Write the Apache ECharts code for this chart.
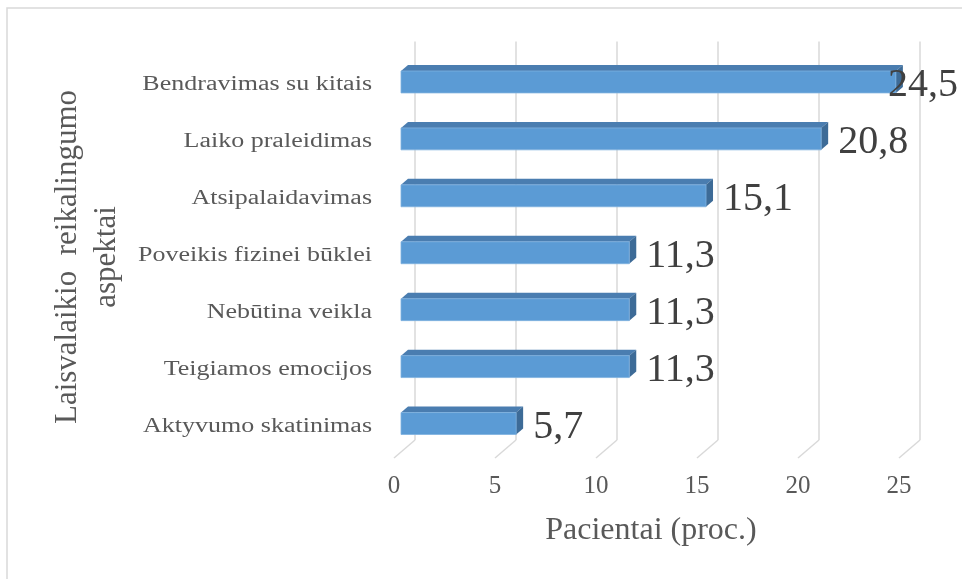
<!DOCTYPE html>
<html>
<head>
<meta charset="utf-8">
<script src="https://cdn.jsdelivr.net/npm/echarts@6/dist/echarts.min.js"></script>
<style>
  html, body { margin: 0; padding: 0; background: #ffffff; }
  #chart { width: 962px; height: 579px; }
</style>
</head>
<body>
<div id="chart"></div>
<script>
// Leisure-time aspects, share of patients (%)
const categories = [
  'Bendravimas su kitais',
  'Laiko praleidimas',
  'Atsipalaidavimas',
  'Poveikis fizinei būklei',
  'Nebūtina veikla',
  'Teigiamos emocijos',
  'Aktyvumo skatinimas'
];
const values = [24.5, 20.8, 15.1, 11.3, 11.3, 11.3, 5.7];
const axisTicks = [0, 5, 10, 15, 20, 25];
const xTitle = 'Pacientai (proc.)';
const yTitle = 'Laisvalaikio  reikalingumo\naspektai';

const SERIF = '"Liberation Serif", "Times New Roman", serif';
const WIDTH = 962;

// 3D offsets relative to the plane the bar fronts sit in
const BAR_DEPTH = [7, -6];
const WALL = [14, -12];
const FLOOR_FRONT = [-7, 6];

const measureCtx = document.createElement('canvas').getContext('2d');
function textWidth(text, font) {
  measureCtx.font = font;
  return measureCtx.measureText(text).width;
}

function fmt(v) { return String(v).replace('.', ','); }

function renderGrid(params, api) {
  const cs = params.coordSys;
  const x = api.coord([api.value(0), 0])[0];
  const top = cs.y, bottom = cs.y + cs.height;
  const style = { stroke: '#d9d9d9', lineWidth: 1.5, fill: null };
  return {
    type: 'group',
    children: [
      { type: 'line', shape: { x1: x + WALL[0], y1: top + WALL[1], x2: x + WALL[0], y2: bottom + WALL[1] }, style },
      { type: 'line', shape: { x1: x + WALL[0], y1: bottom + WALL[1], x2: x + FLOOR_FRONT[0], y2: bottom + FLOOR_FRONT[1] }, style }
    ]
  };
}

function renderBar(params, api) {
  const v = api.value(0);
  const c = api.value(1);
  const p0 = api.coord([0, c]);
  const p1 = api.coord([v, c]);
  const h = api.size([0, 1])[1] * 0.385;
  const x0 = p0[0], x1 = p1[0];
  const yT = p0[1] - h / 2, yB = p0[1] + h / 2;
  const dx = BAR_DEPTH[0], dy = BAR_DEPTH[1];

  const valFont = '40px ' + SERIF;
  const label = fmt(v);
  const tw = textWidth(label, valFont);
  let tx = x1 + 17;
  if (tx + tw > WIDTH - 4) tx = WIDTH - 4 - tw;

  return {
    type: 'group',
    children: [
      { type: 'polygon', shape: { points: [[x0, yT], [x0 + dx, yT + dy], [x1 + dx, yT + dy], [x1, yT]] },
        style: { fill: '#4a7db0' } },
      { type: 'polygon', shape: { points: [[x1, yT], [x1 + dx, yT + dy], [x1 + dx, yB + dy], [x1, yB]] },
        style: { fill: '#3d6b97' } },
      { type: 'rect', shape: { x: x0, y: yT, width: x1 - x0, height: h },
        style: { fill: '#5b9bd5', stroke: '#7fb1e0', lineWidth: 0.8 } },
      { type: 'text', x: tx, y: p0[1] + 4,
        style: { text: label, font: valFont, fill: '#404040', align: 'left', verticalAlign: 'middle' } },
      { type: 'text', x: 372, y: p0[1] + 3, scaleX: 1.3,
        style: { text: categories[c], font: '20px ' + SERIF, fill: '#595959', align: 'right', verticalAlign: 'middle' } }
    ]
  };
}

const chart = echarts.init(document.getElementById('chart'), null, { renderer: 'canvas' });
chart.setOption({
  backgroundColor: '#ffffff',
  animation: false,
  grid: [
    { left: 401, right: WIDTH - 906, top: 53.5, bottom: 579 - 452 },
    { left: 394, right: WIDTH - 899, top: 60, bottom: 579 - 458 }
  ],
  xAxis: [
    { type: 'value', gridIndex: 0, min: 0, max: 25, interval: 5,
      axisLine: { show: false }, axisTick: { show: false }, axisLabel: { show: false }, splitLine: { show: false } },
    { type: 'value', gridIndex: 1, min: 0, max: 25, interval: 5,
      axisLine: { show: false }, axisTick: { show: false }, splitLine: { show: false },
      axisLabel: { margin: 16, fontFamily: SERIF, fontSize: 25, color: '#595959',
        formatter: v => axisTicks.indexOf(v) >= 0 ? String(v) : '' } }
  ],
  yAxis: [
    { type: 'category', gridIndex: 0, data: categories, inverse: true,
      axisLine: { show: false }, axisTick: { show: false }, axisLabel: { show: false }, splitLine: { show: false } },
    { type: 'value', gridIndex: 1, show: false }
  ],
  graphic: [
    { type: 'rect', shape: { x: 7, y: 8, width: 1200, height: 1200 }, silent: true,
      style: { fill: null, stroke: '#d9d9d9', lineWidth: 1.5 } },
    { type: 'text', x: 87, y: 257, rotation: Math.PI / 2,
      style: { text: yTitle, font: '31px ' + SERIF, fill: '#595959', align: 'center', verticalAlign: 'middle', lineHeight: 39 } },
    { type: 'text', x: 651, y: 531,
      style: { text: xTitle, font: '32px ' + SERIF, fill: '#595959', align: 'center', verticalAlign: 'middle' } }
  ],
  series: [
    { type: 'custom', xAxisIndex: 0, yAxisIndex: 0, z: 1, clip: false,
      renderItem: renderGrid, data: axisTicks.map(t => [t, 0]) },
    { type: 'custom', xAxisIndex: 0, yAxisIndex: 0, z: 2, clip: false,
      renderItem: renderBar, data: values.map((v, i) => [v, i]) }
  ]
});
</script>
</body>
</html>
